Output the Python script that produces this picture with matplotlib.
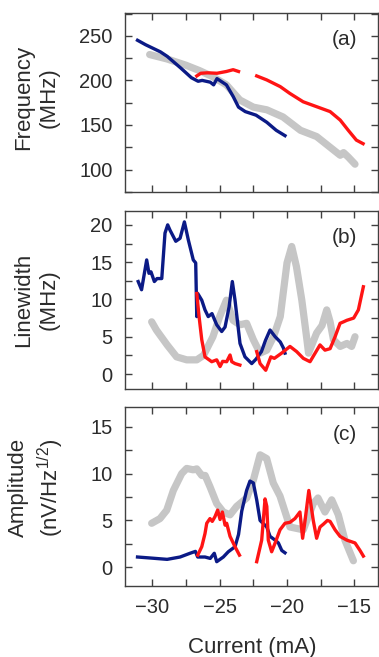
"""Frequency, linewidth and amplitude versus current, three stacked panels."""

import matplotlib

matplotlib.use("Agg")
import matplotlib.pyplot as plt
from matplotlib.ticker import MultipleLocator

plt.rcParams["font.family"] = ["Liberation Sans", "DejaVu Sans"]
plt.rcParams["mathtext.fontset"] = "custom"
plt.rcParams["mathtext.rm"] = "Liberation Sans"
plt.rcParams["mathtext.default"] = "regular"

BLUE = "#0b1a86"
RED = "#ff1414"
GRAY = "#c6c6c6"
INK = "#404040"
TEXT = "#2b2b2b"

# ---- panel (a): frequency (MHz)
freq_gray_x = [-30.2, -28.9, -27.5, -26.5, -25.5, -24.5, -23.5, -22.5, -21.5,
               -20.3, -19.0, -17.8, -16.8, -16.05, -15.8, -15.45, -14.95]
freq_gray_y = [229, 224, 217, 211, 204, 195, 178, 170, 167,
               159, 144, 137, 125, 116, 119, 114, 106]
freq_blue_x = [-31.1, -30.5, -29.4, -28.9, -27.9, -27.1, -26.6, -26.3, -25.7,
               -25.45, -25.2, -24.5, -24.0, -23.6, -23.1, -22.3, -21.5, -20.8, -20.15]
freq_blue_y = [245, 240, 232, 227, 214, 203, 199, 200, 198,
               195, 202, 195, 182, 170, 165, 161, 153, 144, 138]
freq_red1_x = [-26.7, -26.4, -25.9, -25.2, -24.5, -24.0, -23.6]
freq_red1_y = [205, 208, 208.5, 208, 210, 212, 210]
freq_red2_x = [-22.25, -21.5, -20.5, -19.8, -18.8, -17.8, -16.8, -16.05,
               -15.45, -14.85, -14.35]
freq_red2_y = [205, 200.5, 193, 185.5, 176, 170.5, 165, 155.5, 144, 133, 129]

# ---- panel (b): linewidth (MHz)
lw_gray_x = [-30.05, -29.7, -28.9, -28.2, -27.45, -26.7, -26.2, -25.5, -25.0,
             -24.5, -24.0, -23.5, -23.0, -22.5, -22.0, -21.5, -21.0, -20.5,
             -20.0, -19.65, -19.3, -18.9, -18.55, -18.4, -17.8, -17.4, -17.05,
             -16.8, -16.55, -16.05, -15.55, -15.2, -14.95]
lw_gray_y = [7.0, 5.9, 3.9, 2.3, 1.9, 1.9, 2.5, 5.0, 7.7,
             9.9, 7.2, 6.6, 6.8, 4.6, 2.8, 3.2, 5.0, 7.7,
             14.9, 17.1, 14.4, 9.9, 5.0, 2.8, 5.5, 6.5, 8.6,
             7.0, 4.6, 3.7, 4.1, 3.7, 5.0]
lw_blue_x = [-31.05, -30.8, -30.42, -30.25, -30.1, -29.85, -29.65, -29.3,
             -29.06, -28.86, -28.69, -28.26, -27.94, -27.62, -27.33, -26.96,
             -26.78, -26.7, -26.63, -26.33, -26.09, -25.85, -25.57, -25.22,
             -24.85, -24.6, -24.3, -24.06, -23.86, -23.49, -23.12, -22.62,
             -22.3, -21.9, -21.6, -21.26, -20.88, -20.5, -20.27, -20.15]
lw_blue_y = [12.4, 11.3, 15.3, 13.5, 13.7, 12.4, 12.8, 12.8,
             18.9, 20.0, 19.3, 17.8, 18.2, 20.4, 18.0, 15.3,
             14.9, 7.7, 10.8, 9.9, 8.6, 7.7, 8.1, 6.6,
             5.7, 6.3, 9.0, 12.4, 9.9, 4.1, 2.3, 1.4,
             2.0, 3.0, 4.5, 5.9, 5.0, 4.3, 3.5, 2.8]
lw_red1_x = [-26.7, -26.53, -26.33, -26.09, -25.59, -25.22, -24.97, -24.78,
             -24.48, -24.23, -24.1, -23.86, -23.5]
lw_red1_y = [10.8, 7.7, 4.6, 2.3, 1.65, 1.9, 1.0, 1.7,
             1.65, 2.55, 1.65, 1.4, 1.2]
lw_red2_x = [-22.25, -22.0, -21.58, -21.2, -20.94, -20.4, -19.78, -19.28,
             -18.79, -18.29, -17.55, -17.18, -16.8, -16.43, -16.06, -15.8,
             -15.56, -15.05, -14.7, -14.33]
lw_red2_y = [3.0, 1.4, 0.5, 2.3, 2.1, 2.8, 3.7, 3.0,
             2.1, 1.65, 3.9, 3.2, 3.4, 5.0, 6.8, 7.0,
             7.2, 7.5, 8.6, 11.7]

# ---- panel (c): amplitude (nV/Hz^1/2)
amp_gray_x = [-30.05, -29.43, -28.93, -28.44, -27.82, -27.45, -26.96, -26.7,
              -26.33, -26.08, -25.72, -25.22, -24.73, -24.23, -23.74, -22.99,
              -22.5, -22.0, -21.51, -21.02, -20.52, -19.78, -18.79, -18.05,
              -17.7, -17.18, -16.68, -16.19, -15.7, -15.07]
amp_gray_y = [4.7, 5.2, 6.1, 8.2, 10.0, 10.55, 10.4, 10.5,
              9.8, 9.8, 8.6, 6.8, 5.9, 5.6, 6.5, 7.4,
              9.3, 12.0, 11.6, 9.0, 7.6, 4.3, 4.0, 6.8,
              7.4, 5.9, 7.2, 5.6, 2.9, 0.7]
amp_blue_x = [-31.1, -30.2, -28.9, -27.94, -27.2, -26.8, -26.63, -26.09,
              -25.7, -25.4, -25.22, -24.73, -24.36, -23.86, -23.6, -23.36,
              -23.0, -22.75, -22.5, -22.25, -22.0, -21.5, -21.26, -20.88,
              -20.64, -20.39, -20.15]
amp_blue_y = [1.1, 1.0, 0.85, 1.1, 1.5, 1.7, 1.1, 1.1,
              0.95, 1.5, 0.6, 1.1, 1.66, 2.2, 3.5, 6.0,
              8.2, 9.2, 9.0, 7.2, 5.0, 4.3, 3.3, 2.9,
              2.6, 1.8, 1.55]
amp_red1_x = [-26.63, -26.33, -26.09, -25.96, -25.72, -25.55, -25.35, -25.15,
              -24.97, -24.8, -24.6, -24.48, -24.23, -23.86, -23.53]
amp_red1_y = [1.3, 2.2, 3.6, 4.7, 5.2, 4.9, 5.4, 6.1,
              5.1, 5.9, 4.5, 4.7, 3.3, 2.2, 1.3]
amp_red2_x = [-22.25, -21.88, -21.63, -21.5, -21.39, -21.14, -20.88, -20.52,
              -20.15, -19.78, -19.41, -19.04, -18.84, -18.66, -18.38, -18.05,
              -17.8, -17.55, -17.3, -17.0, -16.8, -16.43, -16.06, -15.56,
              -14.95, -14.58, -14.33]
amp_red2_y = [0.6, 2.9, 7.3, 6.5, 2.9, 1.66, 2.6, 4.0,
              4.7, 4.8, 5.2, 5.9, 3.1, 5.0, 8.2, 5.0,
              3.1, 4.3, 4.6, 5.0, 4.9, 4.0, 3.3, 2.9,
              2.6, 1.8, 1.2]

x_ticks = [-30, -25, -20, -15]

W, H = 379, 657
fig = plt.figure(figsize=(W / 100, H / 100), dpi=100)


def make_axes(top_px, bottom_px):
    left, right = 125, 377.5
    return fig.add_axes([left / W, 1 - bottom_px / H,
                         (right - left) / W, (bottom_px - top_px) / H])


def style_axes(ax, ylim, ymajor, yminor, letter, ylabel, label_y):
    ax.set_xlim(-32.03, -13.28)
    ax.set_ylim(*ylim)
    ax.xaxis.set_major_locator(MultipleLocator(5))
    ax.xaxis.set_minor_locator(MultipleLocator(2.5))
    ax.yaxis.set_major_locator(MultipleLocator(ymajor))
    ax.yaxis.set_minor_locator(MultipleLocator(yminor))
    for which in ("major", "minor"):
        ax.tick_params(which=which, direction="in", length=5, width=1,
                       color=INK, top=True, right=True, labelsize=14.5,
                       labelcolor=TEXT, pad=9)
    for spine in ax.spines.values():
        spine.set_color(INK)
        spine.set_linewidth(1.0)
    ax.text(0.87, 0.85, letter, transform=ax.transAxes, ha="center",
            va="center", fontsize=15, color=TEXT)
    ax.text(-0.35, label_y, ylabel, transform=ax.transAxes, rotation=90,
            ha="center", va="center", multialignment="center",
            fontsize=16, color=TEXT, linespacing=1.3)


def draw_series(ax, gray, blue, red1, red2):
    ax.plot(*gray, color=GRAY, lw=5.2, solid_capstyle="round")
    ax.plot(*blue, color=BLUE, lw=2.4)
    ax.plot(*red1, color=RED, lw=2.4)
    ax.plot(*red2, color=RED, lw=2.4)


ax_a = make_axes(13, 192)
ax_b = make_axes(210.7, 389.3)
ax_c = make_axes(407.3, 585.7)

draw_series(ax_a, (freq_gray_x, freq_gray_y), (freq_blue_x, freq_blue_y),
            (freq_red1_x, freq_red1_y), (freq_red2_x, freq_red2_y))
style_axes(ax_a, (74.8, 275.6), 50, 25, "(a)", "Frequency\n(MHz)", 0.53)

draw_series(ax_b, (lw_gray_x, lw_gray_y), (lw_blue_x, lw_blue_y),
            (lw_red1_x, lw_red1_y), (lw_red2_x, lw_red2_y))
style_axes(ax_b, (-2.05, 21.9), 5, 2.5, "(b)", "Linewidth\n(MHz)", 0.5)

draw_series(ax_c, (amp_gray_x, amp_gray_y), (amp_blue_x, amp_blue_y),
            (amp_red1_x, amp_red1_y), (amp_red2_x, amp_red2_y))
style_axes(ax_c, (-1.96, 17.07), 5, 2.5, "(c)",
           "Amplitude\n(nV/Hz$^{1/2}$)", 0.55)

for ax in (ax_a, ax_b):
    ax.tick_params(labelbottom=False)
ax_c.set_xticks(x_ticks)

fig.text(252 / W, 1 - 647 / H, "Current (mA)", ha="center", va="center",
         fontsize=16, color=TEXT)

fig.savefig("out.png", dpi=100)
